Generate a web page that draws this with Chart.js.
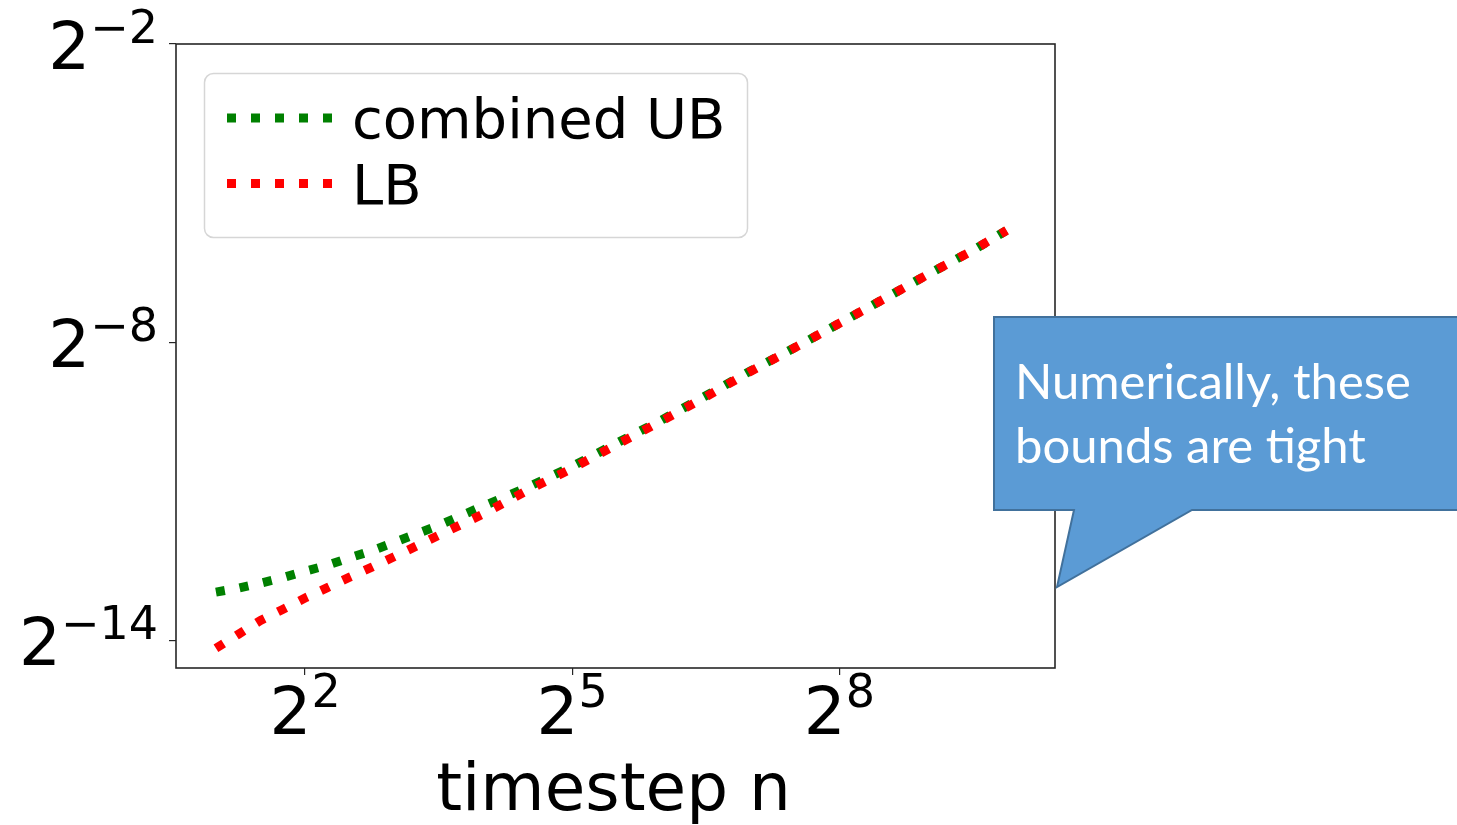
<!DOCTYPE html>
<html>
<head>
<meta charset="utf-8">
<script src="https://cdn.jsdelivr.net/npm/chart.js@4.4.1/dist/chart.umd.min.js"></script>
<style>
  html, body { margin: 0; padding: 0; background: #ffffff; }
  #wrap { position: relative; width: 1457px; height: 825px; }
</style>
</head>
<body>
<div id="wrap"><canvas id="c"></canvas></div>
<script>
// ---- data ----
const nValues = [2, 2.38, 2.83, 3.36, 4, 4.76, 5.66, 6.73, 8, 11.3, 16, 22.6, 32, 45.3, 64, 90.5, 128, 181, 256, 362, 512, 724, 940];
// values shown as powers of two (log2 of the plotted value)
const ubLog2 = [-13.03, -12.95, -12.85, -12.74, -12.61, -12.49, -12.34, -12.20, -12.03, -11.69, -11.30, -10.92, -10.50, -10.03, -9.57, -9.08, -8.58, -8.11, -7.62, -7.13, -6.63, -6.15, -5.75];
const lbLog2 = [-14.16, -13.88, -13.60, -13.38, -13.15, -12.94, -12.73, -12.53, -12.32, -11.89, -11.46, -10.98, -10.54, -10.06, -9.59, -9.10, -8.59, -8.11, -7.62, -7.13, -6.63, -6.15, -5.75];
const seriesLabels = ["combined UB", "LB"];
const xTickExps = [2, 5, 8];
const yTickExps = [-2, -8, -14];
const xAxisTitle = "timestep n";
const calloutLines = ["Numerically, these", "bounds are tight"];

const toPoints = (xs, ys) => xs.map((n, i) => ({ x: n, y: Math.pow(2, ys[i]) }));
const MINUS = "\u2212";
const expText = e => (e < 0 ? MINUS + Math.abs(e) : String(e));

const FONT = '"DejaVu Sans", sans-serif';

const framePlugin = {
  id: 'frame',
  afterDatasetsDraw(chart) {
    const { ctx, chartArea: a } = chart;
    ctx.save();
    ctx.strokeStyle = '#262626';
    ctx.lineWidth = 1.6;
    ctx.strokeRect(a.left, a.top, a.right - a.left, a.bottom - a.top);
    ctx.restore();
  }
};

const legendPlugin = {
  id: 'mplLegend',
  afterDatasetsDraw(chart) {
    const { ctx } = chart;
    ctx.save();
    ctx.beginPath();
    ctx.roundRect(204.5, 73.5, 543, 164, 9);
    ctx.fillStyle = 'rgba(255,255,255,0.85)';
    ctx.fill();
    ctx.strokeStyle = '#d6d6d6';
    ctx.lineWidth = 1.5;
    ctx.stroke();
    const ds = chart.data.datasets;
    [0, 1].forEach((idx, i) => {
      const d = ds.find(s => s.label === seriesLabels[idx]);
      const y = 118 + i * 65.5;
      ctx.beginPath();
      ctx.setLineDash([9, 15]);
      ctx.lineCap = 'butt';
      ctx.lineWidth = 9;
      ctx.strokeStyle = d.borderColor;
      ctx.moveTo(227, y);
      ctx.lineTo(332, y);
      ctx.stroke();
      ctx.setLineDash([]);
      ctx.fillStyle = '#000';
      ctx.font = '56px ' + FONT;
      ctx.textBaseline = 'alphabetic';
      ctx.textAlign = 'left';
      ctx.fillText(d.label, 352, 138 + i * 65.5);
    });
    ctx.restore();
  }
};

const labelsPlugin = {
  id: 'powLabels',
  afterDraw(chart) {
    const { ctx } = chart;
    const xs = chart.scales.x, ys = chart.scales.y;
    const baseFont = '66px ' + FONT, supFont = '46px ' + FONT;
    ctx.save();
    ctx.fillStyle = '#000';
    ctx.textBaseline = 'alphabetic';
    ctx.textAlign = 'left';
    yTickExps.forEach(e => {
      const py = ys.getPixelForValue(Math.pow(2, e));
      const sup = expText(e);
      ctx.font = supFont; const ws = ctx.measureText(sup).width;
      ctx.font = baseFont; const wb = ctx.measureText('2').width;
      const right = 158;
      const base = py + 24.5;
      ctx.font = baseFont; ctx.fillText('2', right - ws - wb, base);
      ctx.font = supFont; ctx.fillText(sup, right - ws, base - 26);
    });
    xTickExps.forEach(e => {
      const px = xs.getPixelForValue(Math.pow(2, e));
      const sup = expText(e);
      ctx.font = supFont; const ws = ctx.measureText(sup).width;
      ctx.font = baseFont; const wb = ctx.measureText('2').width;
      const left = px - (ws + wb) / 2;
      ctx.font = baseFont; ctx.fillText('2', left, 734);
      ctx.font = supFont; ctx.fillText(sup, left + wb, 707);
    });
    ctx.font = baseFont;
    ctx.textAlign = 'center';
    const a = chart.chartArea;
    ctx.fillText(xAxisTitle, (a.left + a.right) / 2 - 2, 810);
    ctx.restore();
  }
};

const calloutPlugin = {
  id: 'callout',
  afterDraw(chart) {
    const { ctx } = chart;
    ctx.save();
    ctx.beginPath();
    ctx.moveTo(994, 317);
    ctx.lineTo(1470, 317);
    ctx.lineTo(1470, 510);
    ctx.lineTo(1192, 510);
    ctx.lineTo(1057, 587);
    ctx.lineTo(1074, 510);
    ctx.lineTo(994, 510);
    ctx.closePath();
    ctx.fillStyle = '#5B9BD5';
    ctx.fill();
    ctx.strokeStyle = '#41719C';
    ctx.lineWidth = 2;
    ctx.stroke();
    ctx.fillStyle = '#ffffff';
    ctx.font = '49px Lato, "Open Sans", sans-serif';
    ctx.textAlign = 'left';
    ctx.textBaseline = 'alphabetic';
    calloutLines.forEach((t, i) => ctx.fillText(t, 1015, 399 + i * 64));
    ctx.restore();
  }
};

const scaleBase = (tickExps, minE, maxE) => ({
  type: 'logarithmic',
  min: Math.pow(2, minE),
  max: Math.pow(2, maxE),
  afterBuildTicks: s => { s.ticks = tickExps.map(e => ({ value: Math.pow(2, e) })); },
  ticks: { display: false },
  grid: { display: true, drawOnChartArea: false, drawTicks: true, tickLength: 7, color: '#262626', lineWidth: 1.2 },
  border: { display: false }
});

const xScale = Object.assign(scaleBase(xTickExps, 0.5515, 10.42), {
  position: 'bottom',
  afterFit: s => { s.height = 157; }
});
const yScale = Object.assign(scaleBase(yTickExps, -14.558, -2), {
  position: 'left',
  afterFit: s => { s.width = 176; }
});

new Chart(document.getElementById('c'), {
  type: 'line',
  data: {
    datasets: [
      { label: seriesLabels[0], data: toPoints(nValues, ubLog2), borderColor: '#008000', order: 1 },
      { label: seriesLabels[1], data: toPoints(nValues, lbLog2), borderColor: '#ff0000', order: 0 }
    ].map(d => Object.assign(d, {
      borderWidth: 9, borderDash: [9, 15], borderCapStyle: 'butt', borderJoinStyle: 'miter',
      pointRadius: 0, tension: 0, fill: false
    }))
  },
  options: {
    responsive: true,
    maintainAspectRatio: false,
    animation: false,
    events: [],
    layout: { padding: { left: 0, top: 44, right: 402, bottom: 0 } },
    plugins: { legend: { display: false }, tooltip: { enabled: false } },
    scales: { x: xScale, y: yScale }
  },
  plugins: [framePlugin, legendPlugin, labelsPlugin, calloutPlugin]
});
</script>
</body>
</html>
